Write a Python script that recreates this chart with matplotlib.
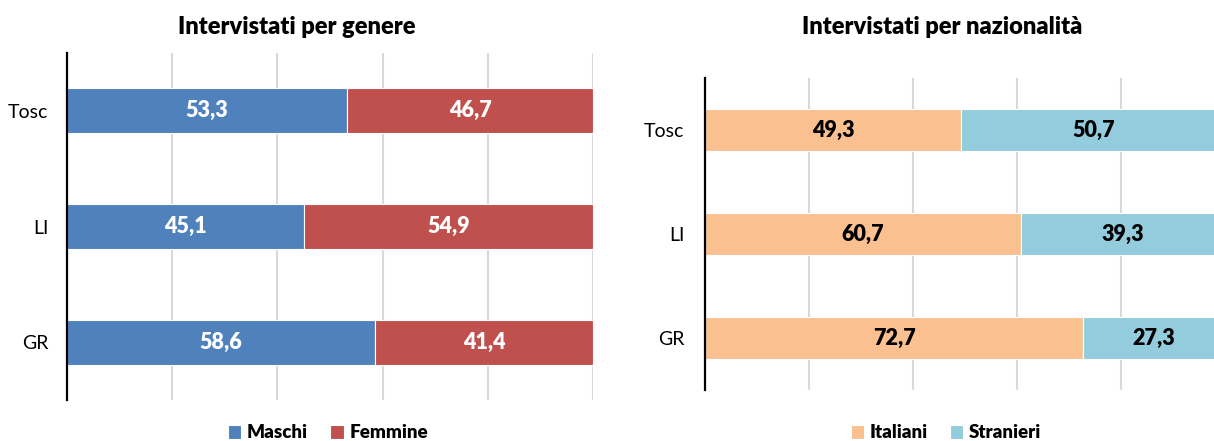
import matplotlib.pyplot as plt

plt.rcParams['font.family'] = ['Lato', 'DejaVu Sans']

categories = ["Tosc", "LI", "GR"]

# gender
maschi = [53.3, 45.1, 58.6]
femmine = [46.7, 54.9, 41.4]

# nationality
italiani = [49.3, 60.7, 72.7]
stranieri = [50.7, 39.3, 27.3]

W, H = 1214, 441
fig = plt.figure(figsize=(W / 100, H / 100), dpi=100)


def px_axes(x0, x1, y_top, y_bot):
    return fig.add_axes([x0 / W, 1 - y_bot / H, (x1 - x0) / W, (y_bot - y_top) / H])


def draw(ax, first, second, names, colors, label_color, bar_h, pad):
    y = range(len(categories))
    b1 = ax.barh(y, first, height=bar_h, color=colors[0], edgecolor="white",
                 linewidth=0.8, label=names[0], zorder=2)
    b2 = ax.barh(y, second, left=first, height=bar_h, color=colors[1],
                 edgecolor="white", linewidth=0.8, label=names[1], zorder=2)
    for bars in (b1, b2):
        ax.bar_label(bars, labels=[f"{v:.1f}".replace(".", ",") for v in bars.datavalues],
                     label_type="center", color=label_color, fontsize=15.5,
                     fontweight="heavy")
    ax.set_xlim(0, 100)
    ax.set_ylim(len(categories) - 0.5, -0.5)
    ax.set_yticks(list(y))
    ax.set_yticklabels(categories, fontsize=14)
    ax.set_xticks([0, 20, 40, 60, 80, 100])
    ax.set_xticklabels([])
    ax.tick_params(length=0, pad=pad)
    ax.grid(axis="x", color="#d9d9d9", linewidth=1.5, zorder=0)
    ax.set_axisbelow(True)
    for s in ("top", "right", "bottom"):
        ax.spines[s].set_visible(False)
    ax.spines["left"].set_linewidth(1.6)
    ax.spines["left"].set_zorder(3)


ax1 = px_axes(67, 593, 53, 400)
draw(ax1, maschi, femmine, ["Maschi", "Femmine"], ["#4F81BD", "#C0504D"], "white", 0.39, 13.5)

ax2 = px_axes(705, 1225, 78, 390)
draw(ax2, italiani, stranieri, ["Italiani", "Stranieri"], ["#FAC090", "#93CDDD"], "black", 0.40, 15)

fig.text(297 / W, 1 - 27 / H, "Intervistati per genere", ha="center", va="center",
         fontsize=17, fontweight="heavy")
fig.text(942 / W, 1 - 27 / H, "Intervistati per nazionalità", ha="center", va="center",
         fontsize=17, fontweight="heavy")

for ax, cx in ((ax1, 328), (ax2, 946)):
    fig.legend(*ax.get_legend_handles_labels(), loc="center", ncol=2,
               bbox_to_anchor=(cx / W, 1 - 433 / H), frameon=False,
               prop={"size": 13.5, "weight": "heavy"}, handlelength=0.7,
               handleheight=0.7, handletextpad=0.3, columnspacing=1.2)

fig.savefig("out.png", dpi=100)
